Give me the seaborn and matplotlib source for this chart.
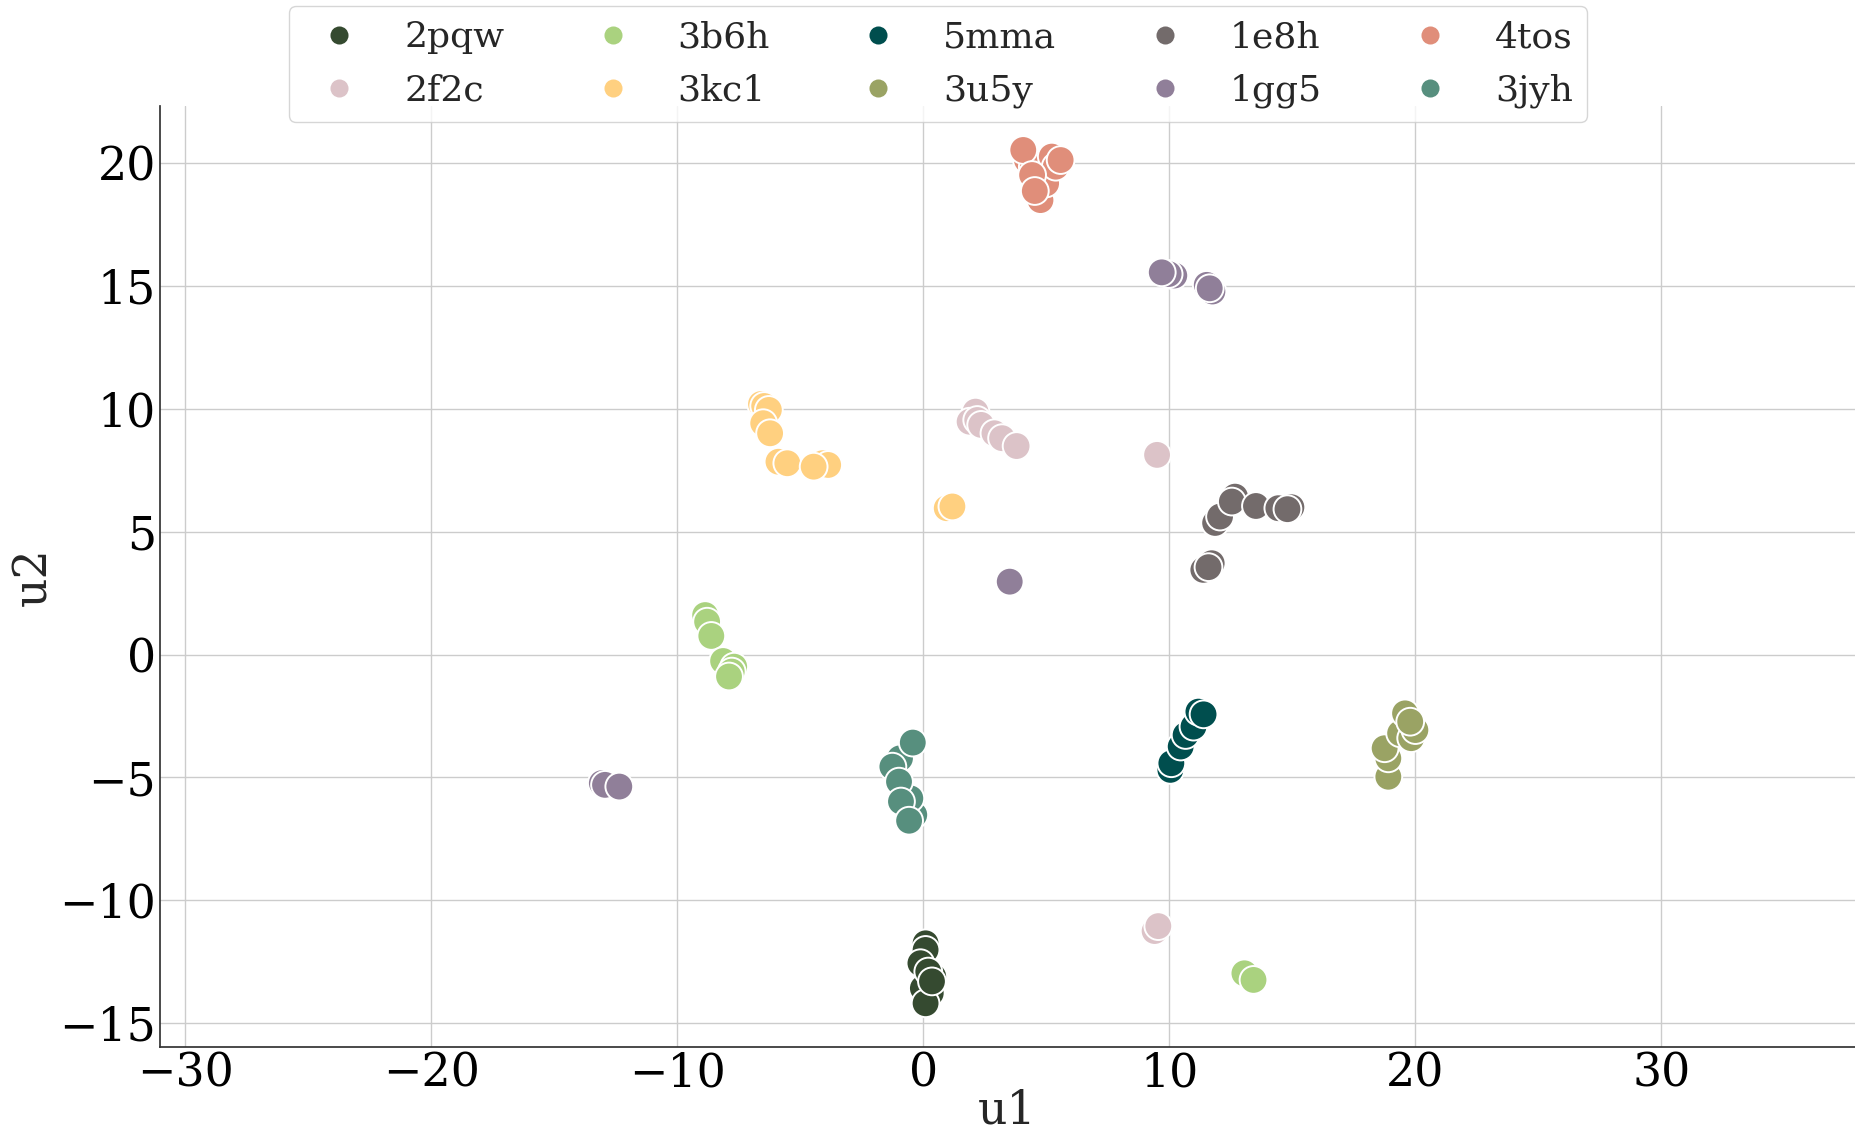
import numpy as np
import pandas as pd
import matplotlib
matplotlib.use("Agg")
import matplotlib.pyplot as plt
import seaborn as sns

# ---- data ----
labels = ["2pqw", "2f2c", "3b6h", "3kc1", "5mma", "3u5y", "1e8h", "1gg5", "4tos", "3jyh"]
colors = ["#354a30", "#dcc3c8", "#aad27f", "#ffd080", "#004e4e",
          "#9aa364", "#736b6b", "#907f99", "#e08e7a", "#578f7e"]

x_2pqw = [0.09, 0.09, -0.12, 0.40, 0.30, -0.02, 0.09, 0.20, 0.35]
y_2pqw = [-11.75, -12.02, -12.56, -13.10, -13.78, -13.58, -14.19, -12.9, -13.3]

x_2f2c = [2.12, 1.88, 2.19, 2.35, 2.89, 3.20, 3.79, 9.50, 9.40, 9.55]
y_2f2c = [9.89, 9.48, 9.55, 9.35, 9.01, 8.81, 8.49, 8.13, -11.25, -11.05]

x_3b6h = [-8.87, -8.79, -8.62, -8.14, -7.69, -7.79, -7.90, 13.05, 13.42]
y_3b6h = [1.61, 1.34, 0.76, -0.26, -0.49, -0.69, -0.89, -12.97, -13.24]

x_3kc1 = [-6.60, -6.47, -6.28, -6.51, -6.23, -5.89, -5.53, -4.10, -3.87, -4.46, 0.95, 1.18]
y_3kc1 = [10.20, 10.12, 9.96, 9.42, 9.01, 7.85, 7.79, 7.79, 7.72, 7.65, 5.96, 6.03]

x_5mma = [10.04, 10.08, 10.46, 10.66, 10.98, 11.18, 11.39]
y_5mma = [-4.69, -4.42, -3.74, -3.27, -2.93, -2.32, -2.43]

x_3u5y = [18.90, 18.90, 18.75, 19.38, 19.83, 20.00, 19.58, 19.79]
y_3u5y = [-4.97, -4.22, -3.81, -3.20, -3.40, -3.07, -2.39, -2.73]

x_1e8h = [11.86, 12.06, 12.67, 12.54, 13.52, 14.43, 14.96, 14.80, 11.38, 11.72, 11.59]
y_1e8h = [5.36, 5.62, 6.43, 6.23, 6.05, 5.96, 6.00, 5.92, 3.45, 3.72, 3.56]

x_1gg5 = [10.20, 9.97, 9.69, 11.75, 11.52, 11.64, 3.51, -13.07, -12.94, -12.36]
y_1gg5 = [15.43, 15.49, 15.56, 14.78, 15.05, 14.91, 2.97, -5.23, -5.30, -5.37]

x_4tos = [4.76, 4.99, 4.21, 4.45, 5.22, 5.38, 4.06, 4.42, 5.58, 4.53]
y_4tos = [18.50, 19.18, 20.13, 19.86, 20.27, 19.86, 20.54, 19.52, 20.13, 18.87]

x_3jyh = [-0.37, -0.53, -0.95, -1.26, -0.99, -0.91, -0.58, -0.43]
y_3jyh = [-6.52, -5.85, -4.22, -4.56, -5.17, -5.98, -6.76, -3.58]

xs = [x_2pqw, x_2f2c, x_3b6h, x_3kc1, x_5mma, x_3u5y, x_1e8h, x_1gg5, x_4tos, x_3jyh]
ys = [y_2pqw, y_2f2c, y_3b6h, y_3kc1, y_5mma, y_3u5y, y_1e8h, y_1gg5, y_4tos, y_3jyh]

rows = []
for lab, xv, yv in zip(labels, xs, ys):
    for a, b in zip(xv, yv):
        rows.append((lab, a, b))
df = pd.DataFrame(rows, columns=["protein", "u1", "u2"])

# ---- style ----
sns.set_theme(style="whitegrid")
plt.rcParams["font.family"] = ["DejaVu Serif"]
plt.rcParams["axes.edgecolor"] = "#333333"
plt.rcParams["grid.color"] = "#cccccc"

fig = plt.figure(figsize=(18.55, 11.36), dpi=100)
ax = fig.add_axes([160 / 1855, 89 / 1136, 1 - 160 / 1855, (1047 - 106) / 1136])

sns.scatterplot(data=df, x="u1", y="u2", hue="protein", hue_order=labels,
                palette=colors, s=400, edgecolor="white", linewidth=1.4,
                ax=ax, legend=True, zorder=3)

ax.set_xlim(-31.03, 37.87)
ax.set_ylim(-15.97, 22.33)
ax.set_xticks([-30, -20, -10, 0, 10, 20, 30])
ax.set_yticks([-15, -10, -5, 0, 5, 10, 15, 20])
ax.tick_params(labelsize=33, colors="black", length=0)
ax.tick_params(axis="x", pad=3)
ax.tick_params(axis="y", pad=3)
ax.set_xlabel("u1", fontsize=33, labelpad=-6)
ax.set_ylabel("u2", fontsize=33, labelpad=2)
sns.despine(ax=ax)
ax.set_axisbelow(True)

handles, labs = ax.get_legend_handles_labels()
ax.get_legend().remove()
for h in handles:
    try:
        h.set_markersize(13)
        h.set_markeredgewidth(0)
    except AttributeError:
        h.set_sizes([170])
        h.set_linewidth(0)
fig.legend(handles, labs, loc="upper center", bbox_to_anchor=(938 / 1855, 1 - 6 / 1136),
           ncol=5, fontsize=26, frameon=True, borderaxespad=0,
           handletextpad=0.8, columnspacing=2.0, labelspacing=0.52)

fig.savefig("out.png", dpi=100)
